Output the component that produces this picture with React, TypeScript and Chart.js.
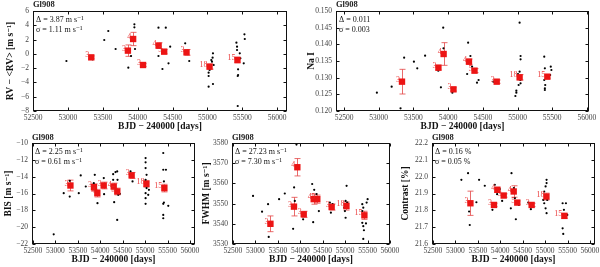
import React, { useEffect, useRef } from 'react';
import { Chart, registerables } from 'chart.js';
Chart.register(...registerables);

if (typeof document !== 'undefined') document.body.style.margin = '0';

// ---------- shared data ----------
const COUNTS = ['3', '3', '4', '3', '4', '5', '3', '18', '15'];
const RED_BJD = [53335, 53860, 53935, 54077, 54300, 54380, 54700, 55030, 55430];
const X_TICKS = [52500, 53000, 53500, 54000, 54500, 55000, 55500, 56000];

// ---------- RV ----------
const RV_BJD = [52979, 53521, 53579, 53684, 53353, 53325, 53866, 53905, 53953, 53953, 53962, 53929, 54058, 54096, 54298, 54403, 54298, 54355, 54442, 54466, 54346, 54681, 54739, 55079, 55074, 55055, 55065, 55041, 55031, 55017, 55017, 55017, 55079, 55089, 55041, 55415, 55424, 55424, 55463, 55520, 55439, 55439, 55434, 55434, 55530, 55535, 55472];
const RV_VAL = [-1.0, 1.94, 3.2, 0.68, -0.77, -0.3, -1.93, -0.3, 4.13, 3.71, 0.68, 1.85, -1.33, -1.7, 3.67, 3.67, -0.3, -2.12, -1.33, 1.01, 0.54, 1.47, -1.0, 0.07, -0.53, -0.86, -1.09, -1.56, -2.26, -2.63, -3.1, -4.59, -4.22, -1.56, -2.03, 1.57, 1.0, 0.54, 0.07, -1.33, -2.17, -2.96, -3.1, -7.3, 2.73, 2.08, -0.63];
const RV_RED = [-0.49, 0.45, 2.08, -1.56, 1.15, 0.31, 0.21, -1.79, -0.86];
const RV_ERR = [0.2, 0.8, 0.93, 0.2, 0.4, 0.3, 0.4, 0.35, 0.4];
const RV_TICKS = [-8, -6, -4, -2, 0, 2, 4, 6];

// ---------- Na I ----------
const NA_BJD = [52973, 53186, 53314, 53366, 53507, 53555, 53668, 53839, 53858, 53896, 53929, 53933, 54061, 54075, 54288, 54321, 54274, 54439, 54416, 54345, 54652, 54713, 55030, 55044, 55044, 55030, 55007, 54983, 54983, 54969, 55040, 55044, 55016, 55385, 55394, 55385, 55399, 55394, 55394, 55479, 55488, 55470];
const NA_VAL = [0.1255, 0.1273, 0.1208, 0.136, 0.1348, 0.1328, 0.1366, 0.1325, 0.1321, 0.1271, 0.145, 0.1388, 0.1255, 0.1261, 0.1405, 0.1365, 0.1311, 0.1293, 0.1285, 0.1333, 0.1288, 0.1291, 0.1465, 0.1365, 0.1355, 0.1318, 0.1311, 0.1261, 0.1255, 0.1245, 0.1293, 0.1283, 0.1278, 0.1363, 0.1328, 0.1293, 0.1278, 0.1268, 0.1263, 0.1333, 0.1323, 0.1308];
const NA_RED = [0.1288, 0.133, 0.1371, 0.1265, 0.1348, 0.1321, 0.1288, 0.1301, 0.1303];
const NA_ERR = [0.0037, 0.0007, 0.0034, 0.0005, 0.0008, 0.0006, 0.0005, 0.0008, 0.0005];
const NA_TICKS = [0.12, 0.125, 0.13, 0.135, 0.14, 0.145, 0.15];

// ---------- BIS ----------
const BIS_BJD = [52962, 53185, 53319, 53319, 53521, 53565, 53677, 53856, 53878, 53916, 53938, 54079, 54086, 54288, 54340, 54288, 54310, 54378, 54385, 54400, 54378, 54437, 54675, 54720, 55011, 55011, 55011, 55033, 55011, 55033, 55011, 55011, 55011, 55085, 55070, 55405, 55405, 55465, 55420, 55420, 55405, 55517, 55405, 55405];
const BIS_VAL = [-20.85, -15.96, -14.49, -16.36, -15.96, -13.85, -15.17, -14.77, -13.78, -15.76, -17.15, -14.17, -16.08, -13.7, -13.46, -14.37, -17.03, -13.38, -14.37, -16.16, -19.14, -16.04, -13.38, -14.57, -11.79, -12.3, -12.98, -13.78, -14.37, -15.36, -15.96, -16.56, -17.23, -15.56, -16.16, -11.19, -13.18, -13.18, -14.57, -17.07, -17.23, -17.47, -18.54, -18.94];
const BIS_RED = [-15.05, -15.25, -15.96, -15.05, -15.17, -15.76, -13.85, -14.85, -15.36];
const BIS_ERR = [0.64, 0.4, 0.45, 0.4, 0.4, 0.4, 0.35, 0.4, 0.45];
const BIS_TICKS = [-22, -20, -18, -16, -14, -12, -10];

// ---------- FWHM ----------
const FW_BJD = [52947, 53148, 53282, 53297, 53528, 53655, 53841, 53863, 53916, 53916, 53878, 54064, 54266, 54311, 54288, 54326, 54415, 54363, 54660, 54683, 54720, 55033, 55011, 54996, 54981, 54996, 55011, 55048, 55383, 55405, 55383, 55405, 55383, 55405, 55420, 55405, 55465, 55502, 55480];
const FW_VAL = [3553.8, 3546, 3549.7, 3533.5, 3552.2, 3555, 3537.5, 3558, 3568.8, 3579.2, 3551.3, 3542.2, 3559.7, 3556.8, 3540.8, 3551.3, 3546.3, 3554.7, 3550.5, 3545.5, 3549.7, 3558.8, 3551.3, 3549.7, 3548, 3546.3, 3543, 3550.5, 3549.7, 3548, 3546.3, 3543.8, 3540.5, 3538.8, 3536.8, 3532.5, 3540.2, 3552.2, 3550.5];
const FW_RED = [3540.0, 3548.5, 3568.0, 3544.7, 3552.2, 3552.2, 3548.3, 3548.8, 3544.2];
const FW_ERR = [3.9, 4.6, 4.3, 1.5, 2.5, 2, 1.5, 2, 2];
const FW_TICKS = [3530, 3540, 3550, 3560, 3570, 3580];

// ---------- Contrast ----------
const CT_BJD = [53133, 53282, 53305, 53320, 53468, 53528, 53655, 53826, 53878, 53930, 53990, 54042, 54251, 54236, 54303, 54326, 54348, 54415, 54623, 54683, 55033, 55033, 55011, 54981, 54996, 54959, 54981, 55011, 55033, 55048, 55391, 55465, 55420, 55391, 55405, 55443, 55495];
const CT_VAL = [21.981, 22.021, 21.793, 21.713, 21.848, 21.981, 21.946, 21.803, 21.952, 21.896, 21.926, 21.856, 22.021, 21.812, 21.932, 21.872, 21.747, 21.832, 21.846, 21.807, 21.981, 21.962, 21.942, 21.912, 21.892, 21.862, 21.842, 21.812, 21.783, 21.862, 21.842, 21.842, 21.803, 21.693, 21.66, 21.763, 21.773];
const CT_RED = [21.842, 21.832, 21.922, 21.888, 21.912, 21.846, 21.832, 21.882, 21.767];
const CT_ERR = [0.072, 0.01, 0.015, 0.01, 0.034, 0.01, 0.01, 0.02, 0.015];
const CT_TICKS = [21.6, 21.7, 21.8, 21.9, 22.0, 22.1, 22.2];

const minus = (s: string) => s.replace('-', '\u2212');

const PANELS = [
  {
    key: 'rv', left: 0, top: 0, w: 300, h: 133, area: { l: 33, t: 11, r: 287, b: 111 },
    xMin: 52500, xMax: 56140, yMin: -8, yMax: 6, yTicks: RV_TICKS, fmt: (v: number) => minus(String(v)),
    bx: RV_BJD, by: RV_VAL, red: RV_RED, err: RV_ERR, yTitle: 'RV \u2212 <RV> [m s\u207B\u00B9]', yTitleX: 11, xTitleOff: 6,
    delta: '\u0394 = 3.87 m s\u207B\u00B9', sigma: '\u03C3 = 1.11 m s\u207B\u00B9',
  },
  {
    key: 'na', left: 300, top: 0, w: 300, h: 133, area: { l: 36, t: 11, r: 289, b: 111 },
    xMin: 52384, xMax: 56030, yMin: 0.12, yMax: 0.15, yTicks: NA_TICKS, fmt: (v: number) => v.toFixed(3),
    bx: NA_BJD, by: NA_VAL, red: NA_RED, err: NA_ERR, yTitle: 'Na I', yTitleX: 12, xTitleOff: 6,
    delta: '\u0394 = 0.011', sigma: '\u03C3 = 0.003',
  },
  {
    key: 'bis', left: 0, top: 133, w: 200, h: 134, area: { l: 32, t: 10, r: 195, b: 111 },
    xMin: 52478, xMax: 56113, yMin: -22, yMax: -10, yTicks: BIS_TICKS, fmt: (v: number) => minus(String(v)),
    bx: BIS_BJD, by: BIS_VAL, red: BIS_RED, err: BIS_ERR, yTitle: 'BIS [m s\u207B\u00B9]', yTitleX: 9, xTitleOff: 7,
    delta: '\u0394 = 2.25 m s\u207B\u00B9', sigma: '\u03C3 = 0.61 m s\u207B\u00B9',
  },
  {
    key: 'fw', left: 200, top: 133, w: 200, h: 134, area: { l: 32, t: 10, r: 190, b: 111 },
    xMin: 52478, xMax: 56001, yMin: 3530, yMax: 3580, yTicks: FW_TICKS, fmt: (v: number) => String(v),
    bx: FW_BJD, by: FW_VAL, red: FW_RED, err: FW_ERR, yTitle: 'FWHM [m s\u207B\u00B9]', yTitleX: 7, xTitleOff: 7,
    delta: '\u0394 = 27.23 m s\u207B\u00B9', sigma: '\u03C3 = 7.30 m s\u207B\u00B9',
  },
  {
    key: 'ct', left: 400, top: 133, w: 200, h: 134, area: { l: 32, t: 10, r: 195, b: 111 },
    xMin: 52478, xMax: 56113, yMin: 21.6, yMax: 22.2, yTicks: CT_TICKS, fmt: (v: number) => v.toFixed(1),
    bx: CT_BJD, by: CT_VAL, red: CT_RED, err: CT_ERR, yTitle: 'Contrast [%]', yTitleX: 6, xTitleOff: 7,
    delta: '\u0394 = 0.16 %', sigma: '\u03C3 = 0.05 %',
  },
];

const SERIF = '"Liberation Serif", "DejaVu Serif", serif';

const deco = {
  id: 'deco',
  beforeDatasetsDraw(chart: any, _a: any, opts: any) {
    const cfg = opts.cfg;
    const { ctx } = chart;
    const xs = chart.scales.x, ys = chart.scales.y;
    ctx.save();
    ctx.strokeStyle = 'rgba(228,70,70,0.8)';
    ctx.lineWidth = 1;
    cfg.red.forEach((v: number, i: number) => {
      const x = Math.round(xs.getPixelForValue(RED_BJD[i])) + 0.5;
      const y1 = ys.getPixelForValue(v - cfg.err[i]);
      const y2 = ys.getPixelForValue(v + cfg.err[i]);
      ctx.beginPath();
      ctx.moveTo(x, y1); ctx.lineTo(x, y2);
      ctx.moveTo(x - 3, y1); ctx.lineTo(x + 3, y1);
      ctx.moveTo(x - 3, y2); ctx.lineTo(x + 3, y2);
      ctx.stroke();
    });
    ctx.restore();
  },
  afterDatasetsDraw(chart: any, _a: any, opts: any) {
    const cfg = opts.cfg;
    const { ctx } = chart;
    const xs = chart.scales.x, ys = chart.scales.y;
    ctx.save();
    ctx.font = '8px ' + SERIF;
    ctx.fillStyle = 'rgba(232,40,40,0.9)';
    ctx.textAlign = 'right';
    ctx.textBaseline = 'middle';
    cfg.red.forEach((v: number, i: number) => {
      const x = xs.getPixelForValue(RED_BJD[i]);
      const y = ys.getPixelForValue(v);
      ctx.fillText(COUNTS[i], x - 2, y - 2);
    });
    ctx.restore();
  },
  afterDraw(chart: any, _a: any, opts: any) {
    const cfg = opts.cfg;
    const { ctx, chartArea: a } = chart;
    const xs = chart.scales.x, ys = chart.scales.y;
    ctx.save();
    ctx.strokeStyle = '#111';
    ctx.lineWidth = 1;
    const L = Math.round(a.left) + 0.5, R = Math.round(a.right) - 0.5;
    const T = Math.round(a.top) + 0.5, B = Math.round(a.bottom) - 0.5;
    ctx.strokeRect(L, T, R - L, B - T);
    ctx.beginPath();
    xs.ticks.forEach((t: any) => {
      const x = Math.round(xs.getPixelForValue(t.value)) + 0.5;
      ctx.moveTo(x, B); ctx.lineTo(x, B - 3);
      ctx.moveTo(x, T); ctx.lineTo(x, T + 3);
    });
    ys.ticks.forEach((t: any) => {
      const y = Math.round(ys.getPixelForValue(t.value)) + 0.5;
      ctx.moveTo(L, y); ctx.lineTo(L + 3, y);
      ctx.moveTo(R, y); ctx.lineTo(R - 3, y);
    });
    ctx.stroke();
    ctx.fillStyle = '#222';
    ctx.textBaseline = 'middle';
    ctx.textAlign = 'left';
    ctx.font = 'bold 8.5px ' + SERIF;
    ctx.fillText('Gl908', a.left, 5);
    ctx.fillStyle = '#111';
    ctx.font = '8px ' + SERIF;
    ctx.fillText(cfg.delta, a.left + 3, a.top + 9);
    ctx.fillText(cfg.sigma, a.left + 3, a.top + 19);
    ctx.restore();
  },
};

function Panel({ cfg }: { cfg: any }) {
  const ref = useRef<HTMLCanvasElement>(null);
  useEffect(() => {
    const a = cfg.area;
    const tickFont = { family: SERIF, size: 7.5 };
    const titleFont = { family: SERIF, size: 9.5, weight: 'bold' as const, lineHeight: 1 };
    const chart = new Chart(ref.current as HTMLCanvasElement, {
      type: 'scatter',
      data: {
        datasets: [
          {
            data: cfg.red.map((v: number, i: number) => ({ x: RED_BJD[i], y: v })),
            pointStyle: 'rect', pointRadius: 4.5, backgroundColor: 'rgb(236,20,20)', borderWidth: 0,
          },
          {
            data: cfg.bx.map((x: number, i: number) => ({ x, y: cfg.by[i] })),
            pointRadius: 1.1, backgroundColor: '#000', borderWidth: 0,
          },
        ],
      },
      options: {
        responsive: false,
        animation: false,
        devicePixelRatio: 1,
        layout: { padding: { left: 0, top: a.t, right: cfg.w - a.r, bottom: 0 } },
        plugins: { legend: { display: false }, tooltip: { enabled: false }, deco: { cfg } } as any,
        scales: {
          x: {
            type: 'linear', min: cfg.xMin, max: cfg.xMax,
            afterBuildTicks: (s: any) => { s.ticks = X_TICKS.filter(v => v >= cfg.xMin && v <= cfg.xMax).map(v => ({ value: v })); },
            afterFit: (s: any) => { s.height = cfg.h - a.b; s.paddingLeft = 0; s.paddingRight = 0; s.paddingTop = 0; s.paddingBottom = 0; },
            grid: { display: false, drawTicks: false },
            border: { display: false },
            ticks: { font: tickFont, color: '#444', padding: 3, autoSkip: false, maxRotation: 0, callback: (v: any) => String(v) },
            title: { display: true, text: 'BJD \u2212 240000 [days]', font: titleFont, color: '#111', padding: { top: 0, bottom: cfg.xTitleOff - 4.75 } },
          },
          y: {
            type: 'linear', min: cfg.yMin, max: cfg.yMax,
            afterBuildTicks: (s: any) => { s.ticks = cfg.yTicks.map((v: number) => ({ value: v })); },
            afterFit: (s: any) => { s.width = a.l; s.paddingLeft = 0; s.paddingRight = 0; s.paddingTop = 0; s.paddingBottom = 0; },
            grid: { display: false, drawTicks: false },
            border: { display: false },
            ticks: { font: tickFont, color: '#444', padding: 4, autoSkip: false, callback: (v: any) => cfg.fmt(Number(v)) },
            title: { display: true, text: cfg.yTitle, font: titleFont, color: '#111', padding: { top: cfg.yTitleX - 4.75, bottom: 0 } },
          },
        },
      } as any,
      plugins: [deco as any],
    });
    return () => chart.destroy();
  }, []);
  return (
    <canvas
      ref={ref}
      width={cfg.w}
      height={cfg.h}
      style={{ position: 'absolute', left: cfg.left, top: cfg.top, width: cfg.w, height: cfg.h }}
    />
  );
}

export default function App() {
  return (
    <div style={{ position: 'relative', width: 600, height: 267, background: '#fff', overflow: 'hidden' }}>
      {PANELS.map(p => <Panel key={p.key} cfg={p} />)}
    </div>
  );
}
